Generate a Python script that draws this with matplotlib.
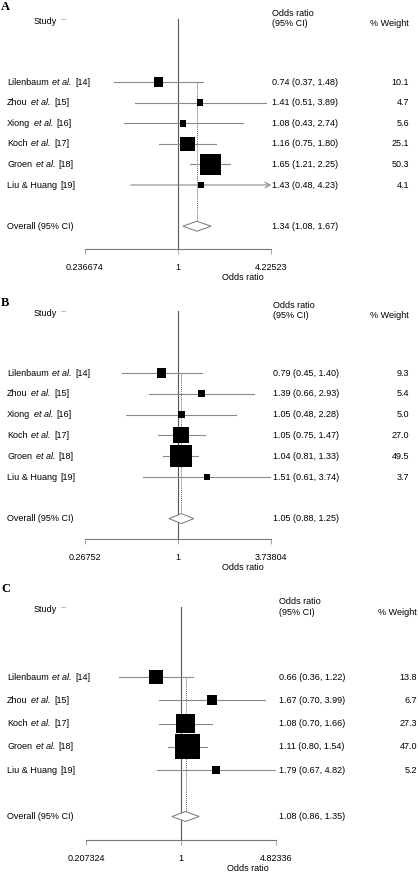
import matplotlib
matplotlib.use("Agg")
import matplotlib.pyplot as plt
from matplotlib.transforms import blended_transform_factory, offset_copy

plt.rcParams['font.family'] = ['Liberation Sans', 'DejaVu Sans']

# ---- data ----
# (name, italic part, reference)
studies_ab = [("Lilenbaum", "et al.", "[14]"), ("Zhou", "et al.", "[15]"),
              ("Xiong", "et al.", "[16]"), ("Koch", "et al.", "[17]"),
              ("Groen", "et al.", "[18]"), ("Liu & Huang", "", "[19]")]
studies_c = [("Lilenbaum", "et al.", "[14]"), ("Zhou", "et al.", "[15]"),
             ("Koch", "et al.", "[17]"), ("Groen", "et al.", "[18]"),
             ("Liu & Huang", "", "[19]")]

or_a = [0.74, 1.41, 1.08, 1.16, 1.65, 1.43]
lo_a = [0.37, 0.51, 0.43, 0.75, 1.21, 0.48]
hi_a = [1.48, 3.89, 2.74, 1.80, 2.25, 4.23]
w_a = [10.1, 4.7, 5.6, 25.1, 50.3, 4.1]
overall_a = (1.34, 1.08, 1.67)
ticks_a = [0.236674, 1, 4.22523]
arrows_a = [5]

or_b = [0.79, 1.39, 1.05, 1.05, 1.04, 1.51]
lo_b = [0.45, 0.66, 0.48, 0.75, 0.81, 0.61]
hi_b = [1.40, 2.93, 2.28, 1.47, 1.33, 3.74]
w_b = [9.3, 5.4, 5.0, 27.0, 49.5, 3.7]
overall_b = (1.05, 0.88, 1.25)
ticks_b = [0.26752, 1, 3.73804]
arrows_b = []

or_c = [0.66, 1.67, 1.08, 1.11, 1.79]
lo_c = [0.36, 0.70, 0.70, 0.80, 0.67]
hi_c = [1.22, 3.99, 1.66, 1.54, 4.82]
w_c = [13.8, 6.7, 27.3, 47.0, 5.2]
overall_c = (1.08, 0.86, 1.35)
ticks_c = [0.207324, 1, 4.82336]
arrows_c = []

W, H = 418, 872
fig = plt.figure(figsize=(W / 100, H / 100), dpi=100)
renderer = fig.canvas.get_renderer()
FS = 6.5
GAP = 3.5  # blank between label parts, pixels
CI_COL = '#8a8a8a'


def fx(x):
    return x / W


def fy(y):
    return 1 - y / H


def study_label(x, row, parts, tr):
    # draws "Name et al. [n]" with the middle part in italic
    px = 0
    for txt, style in zip(parts, ['normal', 'italic', 'normal']):
        if not txt:
            continue
        t = fig.text(fx(x), row, txt, fontsize=FS, va='center', style=style,
                     transform=offset_copy(tr, fig=fig, x=px * 72 / 100, units='points'))
        px += t.get_window_extent(renderer).width + GAP


def panel(letter, studies, ors, los, his, ws, overall, ticks, arrows,
          left, right, top, bottom, row0, step, or_x, w_x, box_k, letter_y):
    n = len(studies)
    ax = fig.add_axes([fx(left), fy(bottom), fx(right - left), (bottom - top) / H])
    ax.set_xscale('log')
    ax.set_xlim(ticks[0], ticks[-1])
    ax.set_ylim((bottom - row0) / step, (top - row0) / step)
    for s in ['top', 'left', 'right']:
        ax.spines[s].set_visible(False)
    ax.spines['bottom'].set_color('#777777')
    ax.spines['bottom'].set_linewidth(0.8)
    ax.set_yticks([])
    ax.set_xticks(ticks)
    ax.set_xticklabels([f"{t:g}" for t in ticks])
    ax.minorticks_off()
    ax.tick_params(axis='x', length=3.5, width=0.6, color='#999999',
                   pad=6.5, labelsize=FS)
    ax.patch.set_alpha(0)

    ax.axvline(1, color='#555555', lw=0.8, zorder=1)

    rows = list(range(n))
    ov, ov_lo, ov_hi = overall
    ov_row = n + 1
    dh = 5 / step
    ax.plot([ov, ov], [0, ov_row - dh], color='#666666', lw=0.7,
            ls=(0, (1, 1)), zorder=1)

    for i in rows:
        hi = min(his[i], ticks[-1])
        if i in arrows:
            ax.annotate('', xy=(hi, i), xytext=(los[i], i),
                        arrowprops=dict(arrowstyle='->,head_length=0.35,head_width=0.2',
                                        color=CI_COL, lw=0.8, shrinkA=0, shrinkB=0),
                        annotation_clip=False, zorder=2)
        else:
            ax.plot([los[i], hi], [i, i], color=CI_COL, lw=0.8, zorder=2)
    sizes = [(box_k * w ** 0.5 * 0.72) ** 2 for w in ws]
    ax.scatter(ors, rows, s=sizes, marker='s', color='black', linewidths=0,
               zorder=3, clip_on=False)

    ax.fill([ov_lo, ov, ov_hi, ov], [ov_row, ov_row - dh, ov_row, ov_row + dh],
            facecolor='white', edgecolor='#777777', lw=0.7, zorder=3)

    tr = blended_transform_factory(fig.transFigure, ax.transData)
    for i in rows:
        study_label(7, i, studies[i], tr)
        fig.text(fx(or_x), i, f"{ors[i]:.2f} ({los[i]:.2f}, {his[i]:.2f})",
                 transform=tr, fontsize=FS, va='center')
        fig.text(fx(w_x), i, f"{ws[i]:.1f}", transform=tr, fontsize=FS,
                 va='center', ha='right')
    fig.text(fx(7), ov_row, "Overall (95% CI)", transform=tr, fontsize=FS, va='center')
    fig.text(fx(or_x), ov_row, f"{ov:.2f} ({ov_lo:.2f}, {ov_hi:.2f})",
             transform=tr, fontsize=FS, va='center')

    # headers
    fig.text(fx(or_x), fy(top - 6), "Odds ratio", fontsize=FS, va='center')
    fig.text(fx(or_x), fy(top + 5), "(95% CI)", fontsize=FS, va='center')
    fig.text(fx(w_x), fy(top + 5), "% Weight", fontsize=FS, va='center', ha='right')
    fig.text(fx(34), fy(top + 2), "Study", fontsize=FS, va='center')
    fig.text(fx(61), fy(top + 1), "\u2013", fontsize=FS, va='center', color='#999999')
    fig.text(fx(1), fy(letter_y), letter, fontsize=9, fontweight='bold',
             family='Liberation Serif', va='center')
    fig.text(fx(left + 0.85 * (right - left)), fy(bottom + 28), "Odds ratio",
             fontsize=FS, va='center', ha='center')


panel('A', studies_ab, or_a, lo_a, hi_a, w_a, overall_a, ticks_a, arrows_a,
      85, 271, 19, 249, 82, 20.6, 272, 409, 2.9, 7)
panel('B', studies_ab, or_b, lo_b, hi_b, w_b, overall_b, ticks_b, arrows_b,
      85, 271, 311, 539, 373, 20.8, 273, 409, 3.1, 303)
panel('C', studies_c, or_c, lo_c, hi_c, w_c, overall_c, ticks_c, arrows_c,
      86, 276, 607, 840, 677, 23.25, 279, 417, 3.7, 589)

fig.savefig('out.png', dpi=100)
